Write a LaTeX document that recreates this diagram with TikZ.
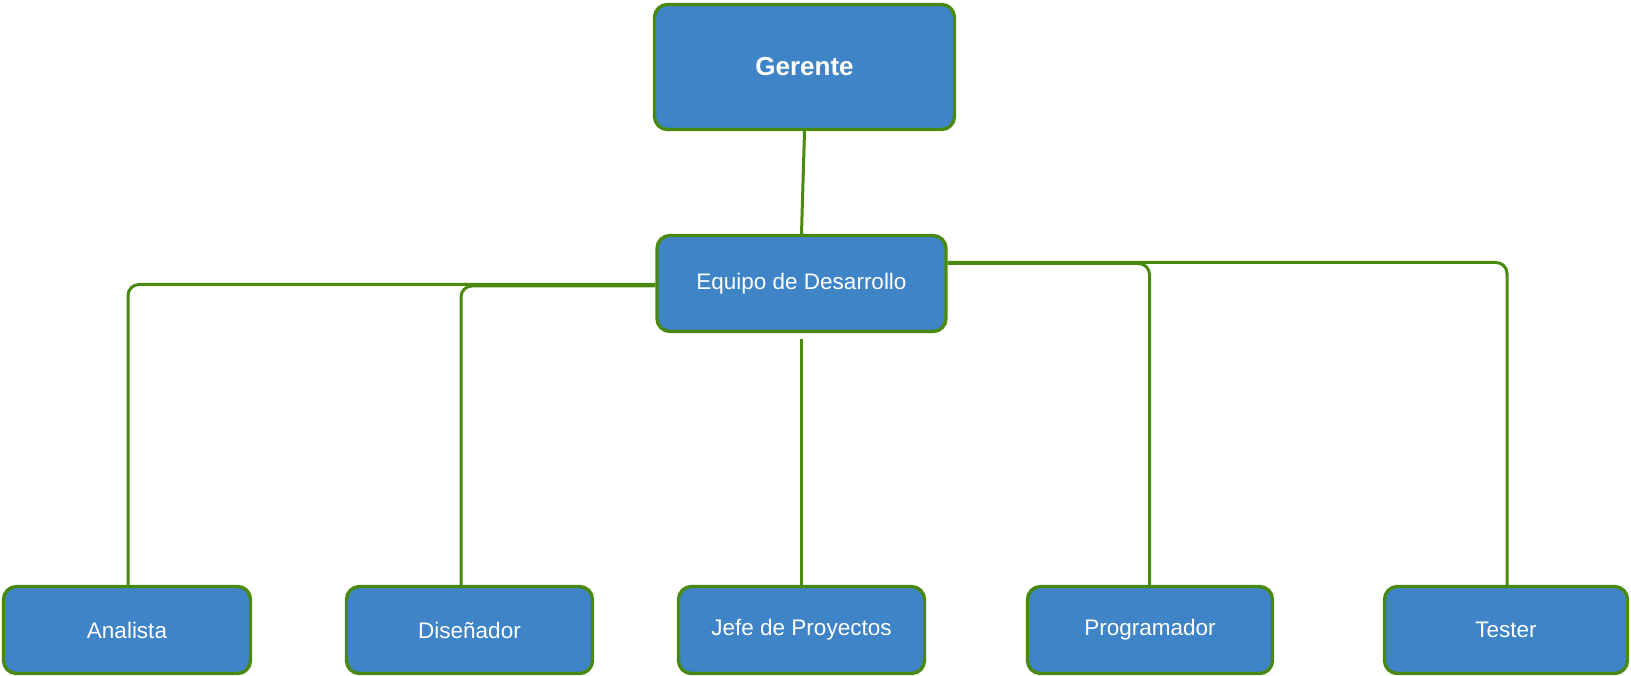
\documentclass[tikz,border=0pt]{standalone}
\usepackage{fontspec}
\setmainfont{Liberation Sans}
\definecolor{boxblue}{RGB}{62,132,198}
\definecolor{linegreen}{RGB}{74,137,16}
\tikzset{
  orgbox/.style={draw=linegreen, fill=boxblue, line width=3.4pt, rounded corners=13pt,
    text=white, font=\fontsize{22.5}{26}\selectfont, inner sep=0pt, align=center},
  conn/.style={draw=linegreen, line width=3pt, rounded corners=11pt},
}
\begin{document}
\begin{tikzpicture}[x=1pt,y=-1pt]
\useasboundingbox (0,0) rectangle (1631,676);
\node[orgbox, minimum width=300pt, minimum height=125pt, font=\fontsize{26}{30}\selectfont\bfseries] (ger) at (804.5,67) {Gerente};
\node[orgbox, minimum width=289pt, minimum height=96pt] (eq) at (801.5,283.5) {Equipo de Desarrollo};
\node[orgbox, minimum width=247pt, minimum height=87pt] (ana) at (127,630) {Analista};
\node[orgbox, minimum width=246pt, minimum height=87pt] (dis) at (469.5,630) {Diseñador};
\node[orgbox, minimum width=246pt, minimum height=87pt] (jefe) at (801.5,630) {Jefe de Proyectos};
\node[orgbox, minimum width=245pt, minimum height=87pt] (prog) at (1150,630) {Programador};
\node[orgbox, minimum width=243pt, minimum height=87pt] (test) at (1506,630) {Tester};

\draw[conn] (ger.south) -- (eq.north);
\draw[conn] ([yshift=-1pt]eq.west) -| ([xshift=1pt]ana.north);
\draw[conn] ([yshift=-2.5pt]eq.west) -| ([xshift=-8.5pt]dis.north);
\draw[conn] ([yshift=-6pt]eq.south) -- (jefe.north);
\draw[conn] ([yshift=20pt]eq.east) -| ([xshift=-0.5pt]prog.north);
\draw[conn] ([yshift=21pt]eq.east) -| ([xshift=1pt]test.north);
\end{tikzpicture}
\end{document}
